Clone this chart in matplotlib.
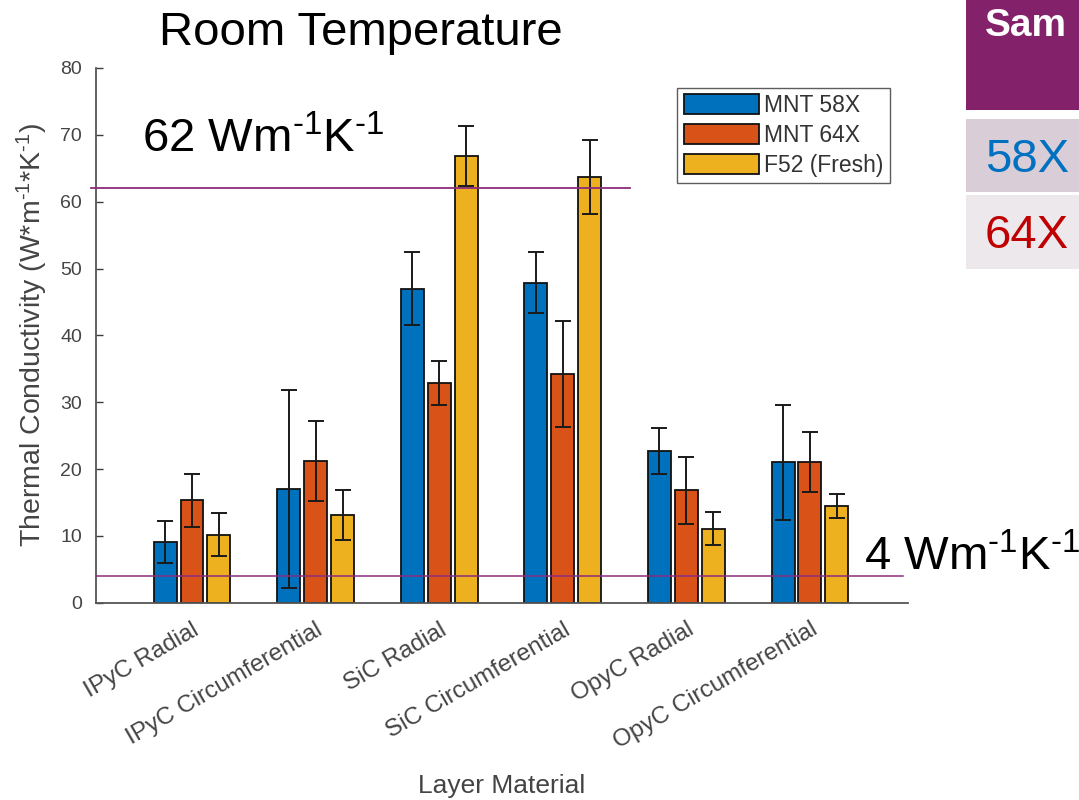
import matplotlib
matplotlib.use("Agg")
import matplotlib.pyplot as plt
from matplotlib.patches import Rectangle
from matplotlib.transforms import ScaledTranslation
import numpy as np

# ---- data -------------------------------------------------------------
categories = ["IPyC Radial", "IPyC Circumferential", "SiC Radial",
              "SiC Circumferential", "OpyC Radial", "OpyC Circumferential"]
series_names = ["MNT 58X", "MNT 64X", "F52 (Fresh)"]

mnt58 = [9.1, 17.0, 47.0, 47.9, 22.7, 21.0]
mnt58_err = [3.1, 14.8, 5.5, 4.5, 3.4, 8.6]
mnt64 = [15.3, 21.2, 32.9, 34.2, 16.8, 21.0]
mnt64_err = [4.0, 6.0, 3.3, 7.9, 5.0, 4.5]
f52 = [10.2, 13.1, 66.8, 63.7, 11.1, 14.4]
f52_err = [3.2, 3.7, 4.5, 5.6, 2.4, 1.8]

yticks = [0, 10, 20, 30, 40, 50, 60, 70, 80]
ref_high = 62   # W m^-1 K^-1
ref_low = 4     # W m^-1 K^-1

# ---- style ------------------------------------------------------------
plt.rcParams["font.family"] = ["Liberation Sans", "DejaVu Sans"]
plt.rcParams["mathtext.fontset"] = "custom"
plt.rcParams["mathtext.rm"] = "Liberation Sans"
plt.rcParams["mathtext.it"] = "Liberation Sans:italic"
plt.rcParams["mathtext.bf"] = "Liberation Sans:bold"

colors = ["#0072BD", "#D95319", "#EDB120"]
axis_grey = "#3c3c3c"
label_grey = "#444444"
purple = "#8B2C7E"
UNIT = r"Wm$^{\text{-}1}$K$^{\text{-}1}$"

W, H = 1079, 800
fig = plt.figure(figsize=(W / 100, H / 100), dpi=100)


def fx(px):
    return px / W


def fy(py):
    return 1 - py / H


ax = fig.add_axes([fx(96), fy(602.7), fx(908) - fx(96), fy(68) - fy(602.7)])

x = np.arange(1, len(categories) + 1)
bw = 0.186
offs = [-0.218, 0.0, 0.218]
series = [(mnt58, mnt58_err), (mnt64, mnt64_err), (f52, f52_err)]

for (vals, errs), off, col, name in zip(series, offs, colors, series_names):
    ax.bar(x + off, vals, width=bw, color=col, edgecolor="#111111",
           linewidth=1.3, label=name, zorder=2)
    ax.errorbar(x + off, vals, yerr=errs, fmt="none", ecolor="#1a1a1a",
                elinewidth=1.4, capsize=6, capthick=1.4, zorder=3)

ax.set_xlim(0.2233, 6.793)
ax.set_ylim(0, 80)
ax.set_yticks(yticks)
ax.set_xticks(x)
ax.set_xticklabels(categories, rotation=30, ha="right", va="top",
                   rotation_mode="anchor", fontsize=17.5, color=label_grey)
shift = ScaledTranslation(12 / 100, 0, fig.dpi_scale_trans)
for lab in ax.get_xticklabels():
    lab.set_transform(lab.get_transform() + shift)
ax.tick_params(axis="x", length=0, pad=11.5)
ax.tick_params(axis="y", direction="in", length=5, width=1.0,
               colors=axis_grey, labelsize=14, labelcolor=label_grey, pad=10)

for side in ["top", "right"]:
    ax.spines[side].set_visible(False)
for side in ["left", "bottom"]:
    ax.spines[side].set_color("#555555")
    ax.spines[side].set_linewidth(1.3)

ax.set_ylabel(r"Thermal Conductivity (W*m$^{\text{-}1}$*K$^{\text{-}1}$)",
              fontsize=20.5, color=label_grey)
ax.yaxis.set_label_coords(-0.0567, 0.5)
ax.set_xlabel("Layer Material", fontsize=19, color=label_grey,
              va="baseline")
ax.xaxis.set_label_coords(0.5, -0.356)

# reference conductivity lines
ax.plot([0.183, 4.544], [ref_high, ref_high], color=purple, lw=1.3,
        clip_on=False, zorder=4)
ax.plot([0.2233, 6.752], [ref_low, ref_low], color=purple, lw=1.1,
        clip_on=False, zorder=4)

leg = ax.legend(loc="upper left", bbox_to_anchor=(0.716, 0.963),
                fontsize=16.5, frameon=True, fancybox=False,
                handlelength=3.3, handleheight=0.95, labelspacing=0.3,
                handletextpad=0.2, borderpad=0.28, borderaxespad=0)
leg.get_frame().set_edgecolor("#333333")
leg.get_frame().set_linewidth(1.0)
for t in leg.get_texts():
    t.set_color("#333333")

# slide annotations
fig.text(fx(361), fy(45), "Room Temperature", fontsize=34, ha="center",
         va="baseline", color="black")
fig.text(fx(142), fy(152), "%d %s" % (ref_high, UNIT), fontsize=34,
         ha="left", va="baseline", color="black")
fig.text(fx(864), fy(570), "%d %s" % (ref_low, UNIT), fontsize=34,
         ha="left", va="baseline", color="black")

# side table fragment
for (y0, y1, c) in [(0, 110, "#84216B"), (119, 192, "#D9CED7"),
                    (195, 269, "#EDE8EC")]:
    fig.patches.append(Rectangle((fx(966), fy(y1)), fx(W) - fx(966),
                                 fy(y0) - fy(y1), transform=fig.transFigure,
                                 facecolor=c, edgecolor="none", zorder=0))
fig.text(fx(985), fy(36), "Sam", fontsize=28, fontweight="bold",
         color="white", ha="left", va="baseline")
fig.text(fx(985), fy(172), "58X", fontsize=34, color="#0070C0",
         ha="left", va="baseline")
fig.text(fx(985), fy(248), "64X", fontsize=34, color="#C00000",
         ha="left", va="baseline")

fig.savefig("out.png", dpi=100)
